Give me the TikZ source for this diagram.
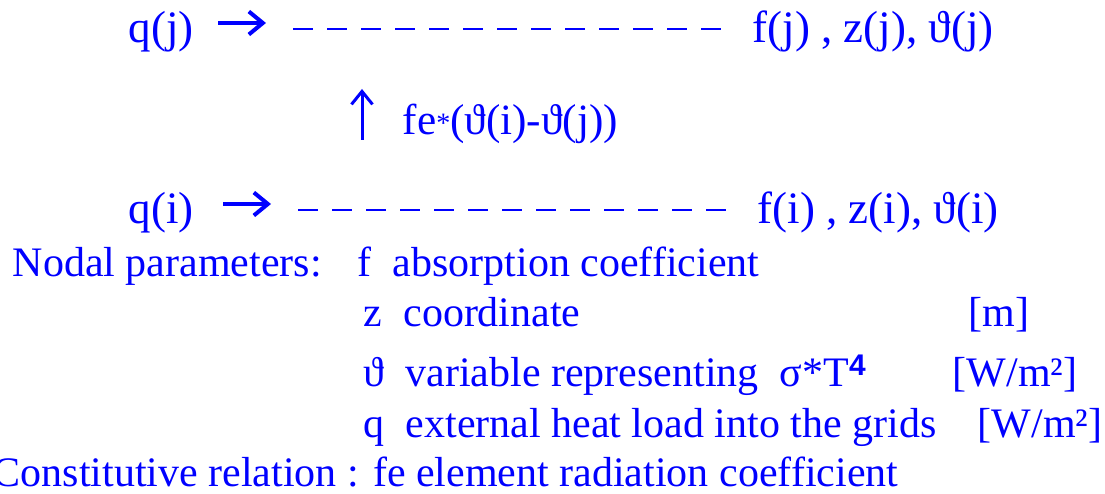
\documentclass[tikz,border=0pt]{standalone}
\usepackage{fontspec}
\setmainfont{Liberation Serif}
\newfontfamily\supfont{Liberation Sans}
\usetikzlibrary{arrows.meta,calc}
\definecolor{slideblue}{RGB}{0,0,255}
\tikzset{
  txt/.style={text=slideblue, inner sep=0pt, anchor=base west,
    font=\fontsize{12.8}{14}\selectfont},
  leg/.style={txt, font=\fontsize{11.95}{14}\selectfont},
  arr/.style={draw=slideblue, line width=0.45mm,
    -{Straight Barb[length=1.4mm,width=2.3mm,line width=0.4mm]}},
  uparr/.style={draw=slideblue, line width=0.3mm,
    -{Straight Barb[length=1.3mm,width=2.1mm,line width=0.3mm]}},
  dashline/.style={draw=slideblue, line width=0.28mm, dash pattern=on 2mm off 1.4mm},
}
% one grid level: q -> ---- f, z, theta
\newcommand{\GridRow}[3]{%
  \node[txt] (q#1) at (128,#2) {q(#1)};
  \node[txt] (f#1) at (752+#3,#2) {f(#1) , z(#1), ϑ(#1)};
  \coordinate (a#1) at (218+#3,#2-20);
  \coordinate (b#1) at (266+#3,#2-20);
  \coordinate (d#1) at (293+#3,#2-14);
  \draw[arr] (a#1) -- (b#1);
  \draw[dashline] (d#1) -- ($(f#1.west |- d#1)+(-31,0)$);
}
\newcommand{\smallstar}{\raisebox{0.25mm}{\fontsize{8}{8}\selectfont *}}

\begin{document}
\begin{tikzpicture}[x=0.1mm,y=-0.1mm]
  \useasboundingbox (0,0) rectangle (1105,494);
  \GridRow{j}{43}{0}
  \GridRow{i}{224}{5}
  % exchange between the two grids
  \coordinate (u0) at (362,140);
  \coordinate (u1) at (362,89);
  \draw[uparr] (u0) -- (u1);
  \node[txt, font=\fontsize{12.3}{14}\selectfont] (fe) at (402,135) {fe\smallstar(ϑ(i)-ϑ(j))};
  % legend
  \node[leg] (nodal) at (12,277) {Nodal parameters:};
  \node[leg] (pf) at (357,277) {f\ \ absorption coefficient};
  \node[leg] (pz) at (363,327) {z\ \ coordinate};
  \node[leg] (um) at (968,327) {[m]};
  \node[leg] (pth) at (363,387) {ϑ\ \ variable representing\ \ σ*T\raisebox{0.27em}{\supfont\bfseries\fontsize{8.5}{9}\selectfont 4}};
  \node[leg] (uth) at (952,387) {[W/m²]};
  \node[leg] (pq) at (363,438) {q\ \ external heat load into the grids};
  \node[leg] (uq) at (977,438) {[W/m²]};
  \node[leg] (cons) at (-8,487) {Constitutive relation : fe element radiation coefficient};
\end{tikzpicture}
\end{document}
